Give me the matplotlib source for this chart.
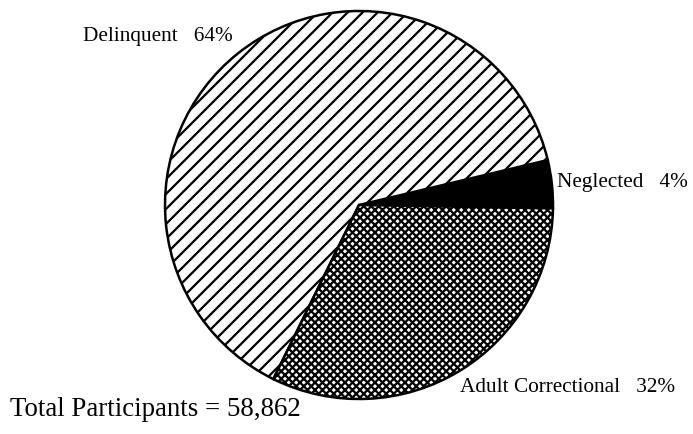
import matplotlib
matplotlib.use("Agg")
import matplotlib.pyplot as plt

categories = ["Neglected", "Delinquent", "Adult Correctional"]
shares = [4, 64, 32]
label_texts = ["Neglected   4%", "Delinquent   64%", "Adult Correctional   32%"]
total_text = "Total Participants = 58,862"

plt.rcParams['hatch.linewidth'] = 1.8
plt.rcParams['font.family'] = ['Liberation Serif', 'DejaVu Serif']

W, H = 693, 434
dpi = 90
fig = plt.figure(figsize=(W / dpi, H / dpi), dpi=dpi)
ax = fig.add_axes([0, 0, 1, 1])

cx, cy, r = 359, H - 205, 194
wedges, _ = ax.pie(shares, startangle=-1, counterclock=True,
                   center=(cx, cy), radius=r,
                   colors=["black", "white", "white"],
                   wedgeprops=dict(edgecolor="black", linewidth=2.0))
wedges[1].set_hatch("//")
wedges[2].set_hatch("xxxx")

ax.set_xlim(0, W)
ax.set_ylim(0, H)
ax.set_aspect("equal")
ax.axis("off")

ax.text(83, H - 36, label_texts[1], fontsize=17, ha="left", va="center")
ax.text(557, H - 183, label_texts[0], fontsize=17, ha="left", va="center")
ax.text(460, H - 388, label_texts[2], fontsize=17, ha="left", va="center")
ax.text(10, H - 410, total_text, fontsize=21.5, ha="left", va="center")

fig.savefig("out.png", dpi=dpi)
